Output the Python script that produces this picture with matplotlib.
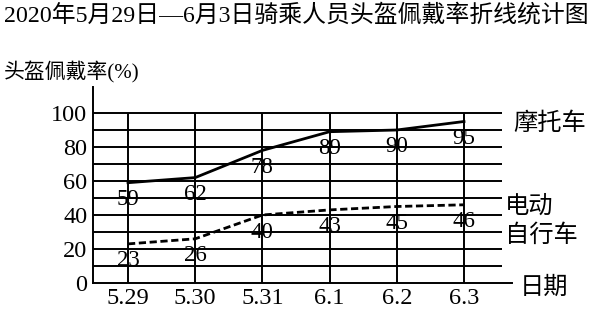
import matplotlib
matplotlib.use("Agg")
import matplotlib.pyplot as plt

# Helmet-wearing rates, 29 May - 3 June 2020
dates = ["5.29", "5.30", "5.31", "6.1", "6.2", "6.3"]
motorcycle = [59, 62, 78, 89, 90, 95]
e_bike = [23, 26, 40, 43, 45, 46]
y_ticks = [0, 20, 40, 60, 80, 100]

FONT = ["Liberation Serif", "Noto Sans CJK SC"]
W, H = 600, 312

fig = plt.figure(figsize=(W / 100, H / 100), dpi=100)
fig.patch.set_facecolor("white")


def fx(px):
    return px / W


def fy(py):
    return 1 - py / H


# axes box in pixel units: left spine, x-axis end, top of y-axis, baseline
left, right, top, bottom = 93, 512, 87, 283
ax = fig.add_axes([fx(left), fy(bottom), fx(right) - fx(left), fy(top) - fy(bottom)])

step = 67.2
x0 = 128
ax.set_xlim((left - x0) / step, (right - x0) / step)
ax.set_ylim(0, (bottom - top) / 1.70)

xs = list(range(len(dates)))
grid_end = (502 - x0) / step

# grid: horizontal every 10, vertical at each date
for yv in range(10, 101, 10):
    ax.plot([ax.get_xlim()[0], grid_end], [yv, yv], color="black", lw=1.4,
            solid_capstyle="butt", zorder=1)
for xv in xs:
    ax.plot([xv, xv], [0, 100], color="black", lw=1.4, solid_capstyle="butt", zorder=1)

for side in ("top", "right"):
    ax.spines[side].set_visible(False)
for side in ("left", "bottom"):
    ax.spines[side].set_linewidth(1.4)
    ax.spines[side].set_color("black")

ax.plot(xs, motorcycle, color="black", lw=2.0, zorder=3, solid_joinstyle="miter")
ax.plot(xs, e_bike, color="black", lw=2.0, zorder=3, linestyle=(0, (2.6, 1.3)))

off = -17 * 72 / 100
for x, v in zip(xs, motorcycle):
    ax.annotate(str(v), (x, v), xytext=(0, off), textcoords="offset points",
                ha="center", va="center", fontsize=16.5, family=FONT, zorder=4)
for x, v in zip(xs, e_bike):
    ax.annotate(str(v), (x, v), xytext=(0, off), textcoords="offset points",
                ha="center", va="center", fontsize=16.5, family=FONT, zorder=4)

ax.set_xticks(xs)
ax.set_xticklabels(dates)
ax.set_yticks(y_ticks)
ax.set_yticklabels([str(t) for t in y_ticks])
ax.tick_params(axis="both", length=0, labelsize=17.5)
ax.tick_params(axis="y", pad=4)
ax.tick_params(axis="x", pad=3.5)
for lab in ax.get_xticklabels() + ax.get_yticklabels():
    lab.set_family(FONT)

# series names and axis names
fig.text(fx(513), fy(124), "摩托车", family=FONT, fontsize=17.5, va="center", ha="left")
fig.text(fx(505), fy(207), "电动", family=FONT, fontsize=17.5, va="center", ha="left")
fig.text(fx(505), fy(236), "自行车", family=FONT, fontsize=17.5, va="center", ha="left")
fig.text(fx(520), fy(288), "日期", family=FONT, fontsize=17.5, va="center", ha="left")

fig.text(fx(4), fy(15), "2020年5月29日—6月3日骑乘人员头盔佩戴率折线统计图",
         family=FONT, fontsize=17.2, va="center", ha="left")
fig.text(fx(4), fy(72), "头盔佩戴率(%)", family=FONT, fontsize=15, va="center", ha="left")

fig.savefig("out.png", dpi=100, facecolor="white")
